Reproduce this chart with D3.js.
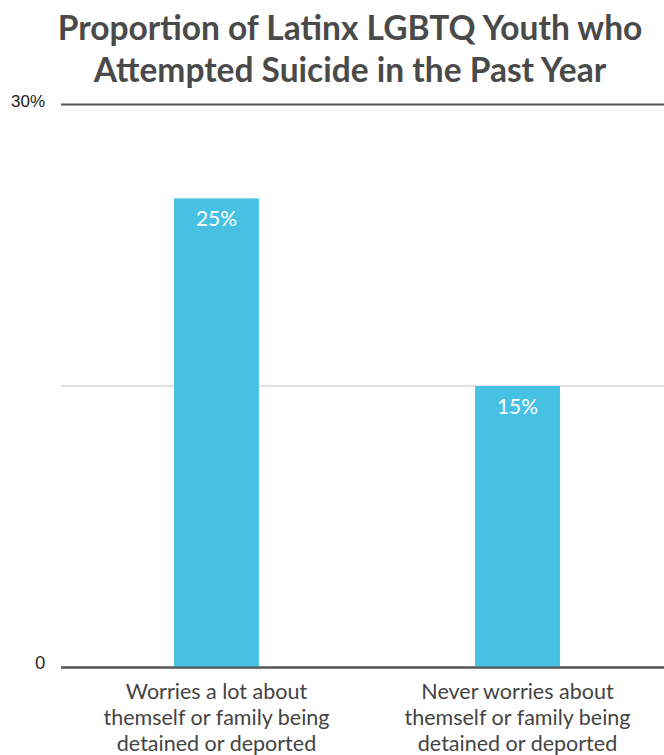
<!DOCTYPE html>
<html><head><meta charset="utf-8">
<script src="https://cdn.jsdelivr.net/npm/d3@7"></script>
<style>body{margin:0;background:#fff;}svg{display:block;}</style>
</head><body>
<script>
const categories = [
  ["Worries a lot about", "themself or family being", "detained or deported"],
  ["Never worries about", "themself or family being", "detained or deported"]
];
const values = [25, 15];
const valueLabels = ["25%", "15%"];
const titleLines = ["Proportion of Latinx LGBTQ Youth who", "Attempted Suicide in the Past Year"];
const yTicks = [0, 15, 30];
const yTickLabels = {0: "0", 15: "", 30: "30%"};

const W = 664, H = 755;
const svg = d3.select("body").append("svg").attr("width", W).attr("height", H);

svg.selectAll("text.title").data(titleLines).enter().append("text")
  .attr("x", 350).attr("y", (d, i) => 40 + i * 42)
  .attr("text-anchor", "middle")
  .attr("font-family", "Lato").attr("font-weight", "bold").attr("font-size", 33.5)
  .attr("fill", "#4a4a4a").text(d => d);

const y = d3.scaleLinear().domain([0, 30]).range([667.5, 104.5]);
const x = d3.scaleBand().domain(d3.range(values.length)).range([66, 668])
  .paddingInner(0.718).paddingOuter(0.359);

// gridlines
svg.selectAll("line.grid").data(yTicks).enter().append("line")
  .attr("x1", 61).attr("x2", W)
  .attr("y1", d => y(d)).attr("y2", d => y(d))
  .attr("stroke", d => d === 15 ? "#c4c4c4" : "#555")
  .attr("stroke-width", d => d === 15 ? 1 : 2);

// bars
svg.selectAll("rect.bar").data(values).enter().append("rect")
  .attr("x", (d, i) => x(i)).attr("width", x.bandwidth())
  .attr("y", d => y(d)).attr("height", d => y(0) - y(d))
  .attr("fill", "#47c1e3");

// baseline redraw on top
svg.append("line").attr("x1", 61).attr("x2", W).attr("y1", y(0)).attr("y2", y(0))
  .attr("stroke", "#555").attr("stroke-width", 2);

// value labels
svg.selectAll("text.val").data(values).enter().append("text")
  .attr("x", (d, i) => x(i) + x.bandwidth() / 2).attr("y", d => y(d) + 28)
  .attr("text-anchor", "middle").attr("font-family", "Lato").attr("font-size", 21)
  .attr("fill", "#fff").text((d, i) => valueLabels[i]);

// y tick labels
svg.selectAll("text.ytick").data(yTicks.filter(t => yTickLabels[t])).enter().append("text")
  .attr("x", 45).attr("y", d => d === 0 ? y(d) + 1 : y(d) + 2)
  .attr("text-anchor", "end")
  .attr("font-family", d => d === 0 ? "Lato" : "Liberation Sans, Arial")
  .attr("font-size", 17)
  .attr("fill", "#222").text(d => yTickLabels[d]);

// category labels
categories.forEach((lines, i) => {
  svg.append("text")
    .attr("text-anchor", "middle").attr("font-family", "Lato").attr("font-size", 21.5)
    .attr("fill", "#444")
    .selectAll("tspan").data(lines).enter().append("tspan")
    .attr("x", x(i) + x.bandwidth() / 2).attr("y", (d, j) => 699 + j * 26)
    .text(d => d);
});
</script>
</body></html>
